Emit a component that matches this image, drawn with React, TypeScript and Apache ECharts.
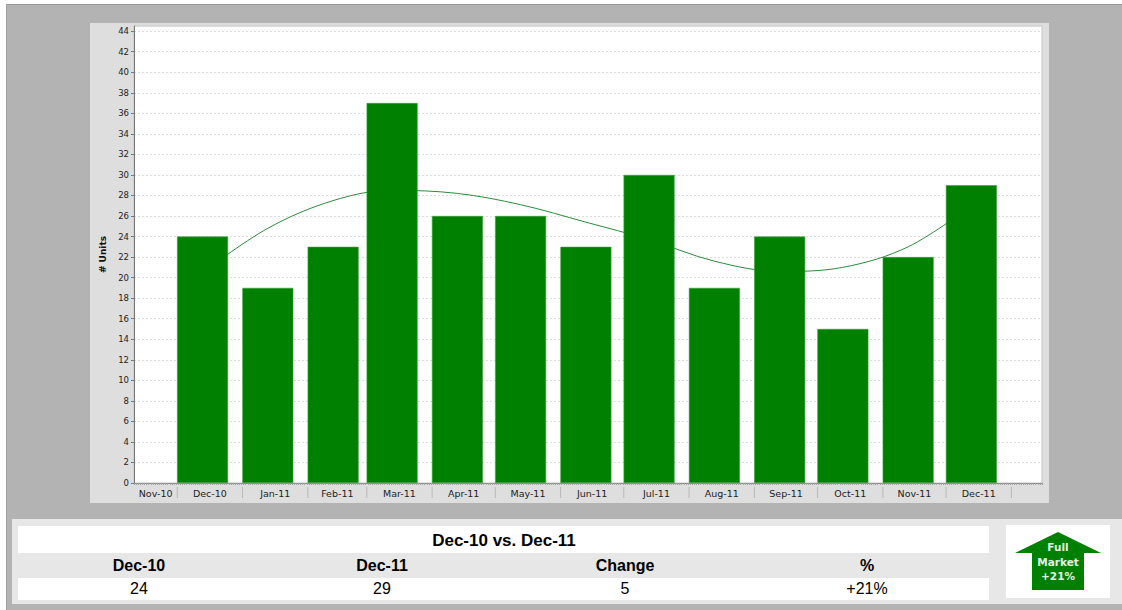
import React, { useEffect, useRef } from "react";
import * as echarts from "echarts";

const monthStarts = [
  "2010-12-01", "2011-01-01", "2011-02-01", "2011-03-01", "2011-04-01", "2011-05-01", "2011-06-01",
  "2011-07-01", "2011-08-01", "2011-09-01", "2011-10-01", "2011-11-01", "2011-12-01",
];
const unitValues = [24, 19, 23, 37, 26, 26, 23, 30, 19, 24, 15, 22, 29];
const trendValues = [20.5, 24.8, 27.5, 28.5, 28.2, 27.1, 25.4, 23.7, 21.6, 20.6, 21.0, 23.0, 27.0];
const tickLabels = [
  "Nov-10", "Dec-10", "Jan-11", "Feb-11", "Mar-11", "Apr-11", "May-11", "Jun-11",
  "Jul-11", "Aug-11", "Sep-11", "Oct-11", "Nov-11", "Dec-11",
];
const separatorMonths = [...monthStarts, "2012-01-01"];
const tableTitle = "Dec-10 vs. Dec-11";
const tableHeaders = ["Dec-10", "Dec-11", "Change", "%"];
const tableValues = ["24", "29", "5", "+21%"];
const arrowLines = ["Full", "Market", "+21%"];

const DAY = 86400000;
const axisStart = Date.UTC(2010, 9, 29, 12);
const axisEnd = Date.UTC(2012, 0, 3, 12);
// ECharts widens a time axis by half a bar on each side, so the limits are pulled in by that much.
const barPadDays = 12.07;
const separatorOffsetDays = 12;
const ts = (s: string) => new Date(s + "T00:00:00Z").getTime();

const PLOT = { left: 134, top: 26, right: 1042, bottom: 483 };
const columnX = [139, 382, 625, 867];
const SANS = '"Liberation Sans", Arial, sans-serif';
const TICK = '"DejaVu Sans", sans-serif';

export default function App() {
  const ref = useRef<HTMLDivElement>(null);
  useEffect(() => {
    document.body.style.margin = "0";
    const chart = echarts.init(ref.current!, null, { renderer: "svg" });
    const separators = separatorMonths.map((m) => ts(m) - separatorOffsetDays * DAY);
    const boundaries = [axisStart, ...separators];
    const rect = (x: number, y: number, w: number, h: number, fill: string, extra: any = {}) => ({
      type: "rect",
      silent: true,
      shape: { x, y, width: w, height: h },
      style: { fill, ...extra },
    });
    const text = (x: number, y: number, t: string, font: string, fill = "#000") => ({
      type: "text",
      silent: true,
      x,
      y,
      style: { text: t, font, fill, textAlign: "center", textVerticalAlign: "middle" },
    });
    chart.setOption({
      animation: false,
      backgroundColor: "#ffffff",
      graphic: {
        z: -1,
        elements: [
          rect(6, 4, 1116, 606, "#b3b3b3"),
          rect(6, 4, 1116, 1, "#9a9a9a"),
          rect(6, 4, 1, 606, "#a0a0a0"),
          rect(90, 23, 959, 480, "#dedede"),
          rect(PLOT.left, PLOT.top, PLOT.right - PLOT.left, PLOT.bottom - PLOT.top, "#ffffff", {
            stroke: "#c4c4c4",
            lineWidth: 1,
          }),
          rect(12, 519, 1110, 85, "#e7e7e7"),
          rect(18, 526, 971, 27, "#ffffff"),
          rect(18, 578, 971, 22, "#ffffff"),
          rect(1006, 525, 104, 73, "#ffffff"),
          {
            type: "polygon",
            silent: true,
            shape: {
              points: [
                [1058, 532],
                [1101, 553],
                [1084, 553],
                [1084, 590],
                [1032, 590],
                [1032, 553],
                [1015, 553],
              ],
            },
            style: { fill: "#008000" },
          },
          text(504, 540, tableTitle, `bold 17px ${SANS}`),
          ...tableHeaders.map((h, i) => text(columnX[i], 565, h, `bold 16px ${SANS}`)),
          ...tableValues.map((v, i) => text(columnX[i], 588, v, `16px ${SANS}`)),
          ...arrowLines.map((l, i) => text(1058, 547 + i * 14.5, l, `bold 10.5px ${TICK}`, "#e4f2e4")),
        ],
      },
      grid: {
        left: PLOT.left,
        top: PLOT.top,
        width: PLOT.right - PLOT.left,
        height: PLOT.bottom - PLOT.top,
        containLabel: false,
      },
      xAxis: [
        {
          type: "time",
          min: Math.round(axisStart + barPadDays * DAY),
          max: Math.round(axisEnd - barPadDays * DAY),
          axisLine: { show: false },
          axisTick: { show: false },
          axisLabel: { show: false },
          splitLine: { show: false },
        },
        {
          type: "value",
          position: "bottom",
          min: 0,
          max: (axisEnd - axisStart) / DAY,
          interval: 1,
          axisLine: { show: true, lineStyle: { color: "#8a8a8a", width: 1 } },
          axisTick: { show: true, length: 2, lineStyle: { color: "#a0a0a0", width: 1 } },
          axisLabel: { show: false },
          splitLine: { show: false },
        },
      ],
      yAxis: {
        type: "value",
        min: 0,
        max: 44.5,
        interval: 2,
        name: "# Units",
        nameLocation: "middle",
        nameGap: 21,
        nameTextStyle: { fontFamily: TICK, fontWeight: "bold", fontSize: 9, color: "#111" },
        axisLine: { show: true, lineStyle: { color: "#777", width: 1 } },
        axisTick: { show: true, length: 3, lineStyle: { color: "#777" } },
        axisLabel: {
          showMaxLabel: false,
          fontFamily: TICK,
          fontSize: 8.5,
          color: "#222",
          margin: 5,
        },
        splitLine: { show: true, lineStyle: { color: "#dcdcdc", type: [2, 2], width: 1 } },
      },
      series: [
        {
          type: "line",
          z: 1,
          showSymbol: false,
          smooth: 0.35,
          lineStyle: { color: "#2e8a3c", width: 1 },
          data: monthStarts.map((m, i) => [ts(m), trendValues[i]]),
        },
        {
          type: "bar",
          z: 2,
          barWidth: 51,
          itemStyle: { color: "#008000", borderColor: "#3aa03a", borderWidth: 0.6 },
          data: monthStarts.map((m, i) => [ts(m), unitValues[i]]),
        },
        {
          type: "custom",
          z: 3,
          silent: true,
          clip: false,
          data: tickLabels.map((_, i) => [boundaries[i], boundaries[i + 1], i]),
          encode: { x: [0, 1] },
          renderItem: (_p: any, api: any) => {
            const x0 = api.coord([api.value(0), 0]);
            const x1 = api.coord([api.value(1), 0]);
            const label = tickLabels[api.value(2)];
            return {
              type: "group",
              children: [
                {
                  type: "line",
                  shape: { x1: x1[0], y1: x1[1] + 4, x2: x1[0], y2: x1[1] + 15 },
                  style: { stroke: "#b8b8b8", lineWidth: 1 },
                },
                {
                  type: "text",
                  x: (x0[0] + x1[0]) / 2,
                  y: x0[1] + 10,
                  style: {
                    text: label,
                    fill: "#222",
                    font: `9.5px ${TICK}`,
                    textAlign: "center",
                    textVerticalAlign: "middle",
                  },
                },
              ],
            };
          },
        },
      ],
    });
    return () => chart.dispose();
  }, []);
  return <div ref={ref} style={{ width: 1122, height: 610 }} />;
}
